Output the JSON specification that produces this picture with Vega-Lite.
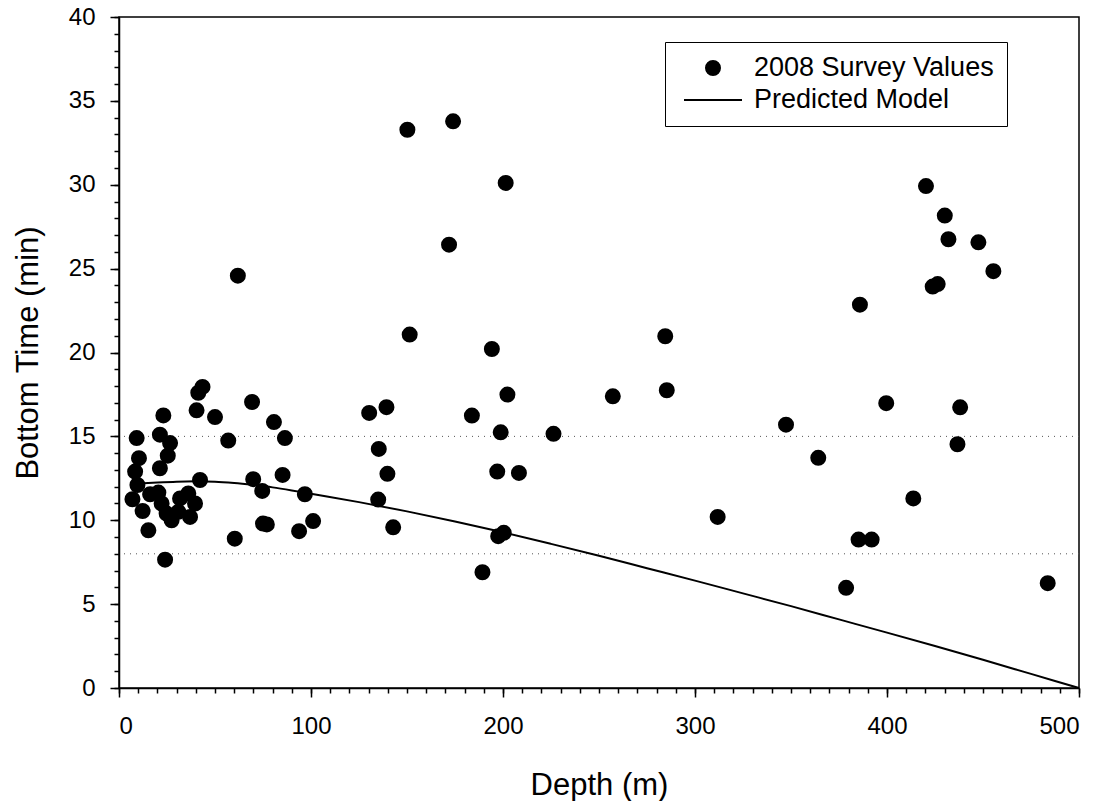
{
  "$schema": "https://vega.github.io/schema/vega-lite/v6.json",
  "width": 960,
  "height": 671,
  "autosize": "none",
  "padding": {"left": 119, "top": 17, "right": 27, "bottom": 113},
  "background": "white",
  "config": {
    "view": {"stroke": "black", "strokeWidth": 1.5},
    "font": "Liberation Sans",
    "axis": {
      "grid": false,
      "domainColor": "black",
      "domainWidth": 1.5,
      "tickColor": "black",
      "tickWidth": 1.5,
      "labelColor": "black",
      "titleColor": "black",
      "labelFont": "Liberation Sans",
      "titleFont": "Liberation Sans",
      "titleFontWeight": "normal"
    }
  },
  "datasets": {
    "survey": [
      {"depth": 9.2, "time": 14.9},
      {"depth": 10.4, "time": 13.7},
      {"depth": 8.4, "time": 12.9},
      {"depth": 9.6, "time": 12.1},
      {"depth": 7.0, "time": 11.25},
      {"depth": 12.3, "time": 10.55},
      {"depth": 15.3, "time": 9.4},
      {"depth": 16.2, "time": 11.55},
      {"depth": 20.5, "time": 11.65},
      {"depth": 23.1, "time": 16.25},
      {"depth": 21.3, "time": 15.1},
      {"depth": 26.6, "time": 14.6},
      {"depth": 25.4, "time": 13.85},
      {"depth": 21.3, "time": 13.1},
      {"depth": 24.0, "time": 7.65},
      {"depth": 22.2, "time": 11.0},
      {"depth": 24.8, "time": 10.4},
      {"depth": 27.4, "time": 10.0},
      {"depth": 30.9, "time": 10.5},
      {"depth": 31.8, "time": 11.3},
      {"depth": 36.1, "time": 11.6},
      {"depth": 39.6, "time": 11.0},
      {"depth": 37.0, "time": 10.2},
      {"depth": 41.3, "time": 17.6},
      {"depth": 43.5, "time": 17.95},
      {"depth": 40.4, "time": 16.55},
      {"depth": 42.2, "time": 12.4},
      {"depth": 50.0, "time": 16.15},
      {"depth": 56.9, "time": 14.75},
      {"depth": 60.3, "time": 8.9},
      {"depth": 61.9, "time": 24.58},
      {"depth": 69.3, "time": 17.05},
      {"depth": 69.9, "time": 12.45},
      {"depth": 74.6, "time": 11.75},
      {"depth": 75.0, "time": 9.8},
      {"depth": 77.0, "time": 9.75},
      {"depth": 80.7, "time": 15.85},
      {"depth": 85.2, "time": 12.7},
      {"depth": 86.4, "time": 14.9},
      {"depth": 93.8, "time": 9.35},
      {"depth": 96.8, "time": 11.55},
      {"depth": 101.1, "time": 9.95},
      {"depth": 130.3, "time": 16.4},
      {"depth": 135.0, "time": 11.23},
      {"depth": 135.3, "time": 14.25},
      {"depth": 139.3, "time": 16.74},
      {"depth": 139.8, "time": 12.77},
      {"depth": 142.8, "time": 9.58},
      {"depth": 150.2, "time": 33.28},
      {"depth": 151.4, "time": 21.07},
      {"depth": 171.9, "time": 26.43},
      {"depth": 174.0, "time": 33.78},
      {"depth": 183.8, "time": 16.24},
      {"depth": 189.3, "time": 6.9},
      {"depth": 194.2, "time": 20.21},
      {"depth": 197.0, "time": 12.9},
      {"depth": 197.5, "time": 9.05},
      {"depth": 198.8, "time": 15.24},
      {"depth": 200.4, "time": 9.25},
      {"depth": 201.4, "time": 30.11},
      {"depth": 202.3, "time": 17.49},
      {"depth": 208.3, "time": 12.82},
      {"depth": 226.3, "time": 15.15},
      {"depth": 257.2, "time": 17.39},
      {"depth": 284.5, "time": 20.97},
      {"depth": 285.3, "time": 17.75},
      {"depth": 311.8, "time": 10.2},
      {"depth": 347.4, "time": 15.7},
      {"depth": 364.2, "time": 13.72},
      {"depth": 378.7, "time": 5.97},
      {"depth": 385.2, "time": 8.85},
      {"depth": 385.9, "time": 22.85},
      {"depth": 392.0, "time": 8.85},
      {"depth": 399.6, "time": 16.98},
      {"depth": 413.7, "time": 11.3},
      {"depth": 420.3, "time": 29.92},
      {"depth": 423.8, "time": 23.93},
      {"depth": 426.4, "time": 24.08},
      {"depth": 430.1, "time": 28.16},
      {"depth": 432.0, "time": 26.75},
      {"depth": 436.7, "time": 14.53},
      {"depth": 438.1, "time": 16.73},
      {"depth": 447.6, "time": 26.57},
      {"depth": 455.4, "time": 24.85},
      {"depth": 483.7, "time": 6.25}
    ],
    "model": [
      {"depth": 8, "time": 12.17},
      {"depth": 20, "time": 12.25},
      {"depth": 30, "time": 12.3},
      {"depth": 40, "time": 12.32},
      {"depth": 50, "time": 12.3},
      {"depth": 60, "time": 12.22},
      {"depth": 70, "time": 12.1},
      {"depth": 80, "time": 11.96},
      {"depth": 90, "time": 11.78},
      {"depth": 100, "time": 11.58},
      {"depth": 125, "time": 11.08},
      {"depth": 150, "time": 10.53},
      {"depth": 175, "time": 9.93},
      {"depth": 200, "time": 9.28},
      {"depth": 225, "time": 8.59},
      {"depth": 250, "time": 7.88},
      {"depth": 275, "time": 7.14},
      {"depth": 300, "time": 6.4},
      {"depth": 325, "time": 5.64},
      {"depth": 350, "time": 4.88},
      {"depth": 375, "time": 4.09},
      {"depth": 400, "time": 3.3},
      {"depth": 425, "time": 2.5},
      {"depth": 450, "time": 1.68},
      {"depth": 475, "time": 0.84},
      {"depth": 500, "time": 0}
    ],
    "refs": [{"time": 15}, {"time": 8}]
  },
  "layer": [
    {
      "data": {"name": "refs"},
      "mark": {"type": "rule", "color": "#555555", "strokeWidth": 1, "strokeDash": [1, 5]},
      "encoding": {
        "y": {"field": "time", "type": "quantitative", "scale": {"domain": [0, 40], "nice": false}, "axis": null}
      }
    },
    {
      "data": {"name": "model"},
      "mark": {"type": "line", "strokeWidth": 2, "color": "black", "interpolate": "monotone"},
      "encoding": {
        "x": {"field": "depth", "type": "quantitative", "scale": {"domain": [0, 500], "nice": false},
          "axis": {"orient": "bottom", "values": [0,10,20,30,40,50,60,70,80,90,100,110,120,130,140,150,160,170,180,190,200,210,220,230,240,250,260,270,280,290,300,310,320,330,340,350,360,370,380,390,400,410,420,430,440,450,460,470,480,490,500], "tickSize": 5, "labels": false, "domain": false, "title": null}},
        "y": {"field": "time", "type": "quantitative", "scale": {"domain": [0, 40], "nice": false},
          "axis": {"orient": "left", "values": [0,1,2,3,4,5,6,7,8,9,10,11,12,13,14,15,16,17,18,19,20,21,22,23,24,25,26,27,28,29,30,31,32,33,34,35,36,37,38,39,40], "tickSize": 5, "labels": false, "domain": false, "title": null}}
      }
    },
    {
      "data": {"name": "survey"},
      "mark": {"type": "point", "filled": true, "color": "black", "stroke": "black", "strokeWidth": 2, "opacity": 1},
      "encoding": {
        "x": {"field": "depth", "type": "quantitative", "scale": {"domain": [0, 500], "nice": false},
          "axis": {"orient": "bottom", "values": [0, 100, 200, 300, 400, 500], "tickSize": 9, "labelFontSize": 24, "labelPadding": 17, "title": "Depth (m)", "titleFontSize": 31, "titlePadding": 32}},
        "y": {"field": "time", "type": "quantitative", "scale": {"domain": [0, 40], "nice": false},
          "axis": {"orient": "left", "values": [0, 5, 10, 15, 20, 25, 30, 35, 40], "tickSize": 9, "labelFontSize": 24, "labelPadding": 15, "title": "Bottom Time (min)", "titleFontSize": 31, "titlePadding": 24}},
        "shape": {
          "datum": "2008 Survey Values",
          "type": "nominal",
          "scale": {"domain": ["2008 Survey Values", "Predicted Model"], "range": ["circle", "stroke"]},
          "legend": {
            "title": null,
            "orient": "none",
            "legendX": 546,
            "legendY": 25,
            "padding": 13,
            "strokeColor": "black",
            "fillColor": "white",
            "labelFontSize": 27,
            "labelFont": "Liberation Sans",
            "labelColor": "black",
            "labelLimit": 0,
            "labelOffset": 11,
            "symbolOffset": 5,
            "rowPadding": 5,
            "clipHeight": 26,
            "symbolStrokeColor": "black",
            "symbolStrokeWidth": 2,
            "symbolFillColor": "black"
          }
        },
        "size": {
          "datum": "2008 Survey Values",
          "type": "ordinal",
          "scale": {"type": "ordinal", "domain": ["2008 Survey Values", "Predicted Model"], "range": [196, 3364]},
          "legend": {
            "title": null,
            "orient": "none",
            "legendX": 546,
            "legendY": 25
          }
        }
      }
    }
  ],
  "resolve": {"axis": {"x": "independent", "y": "independent"}}
}
